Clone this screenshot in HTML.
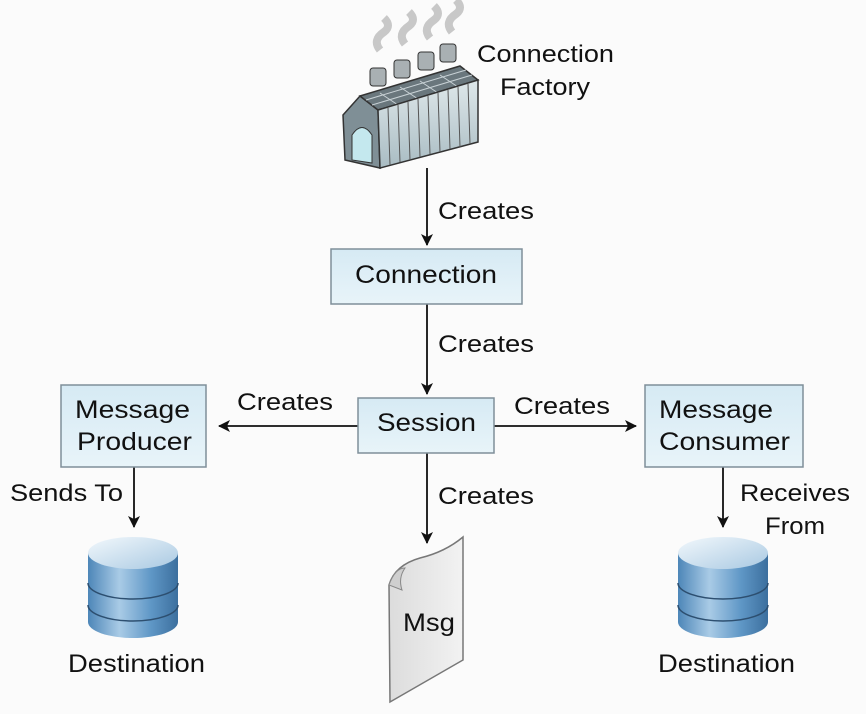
<!DOCTYPE html>
<html><head><meta charset="utf-8"><style>
html,body{margin:0;padding:0;background:#fbfbfb;}
svg{display:block;font-family:"Liberation Sans",Arial,sans-serif;}
</style></head><body>
<svg width="866" height="714" viewBox="0 0 866 714" xmlns="http://www.w3.org/2000/svg">
<defs>
<linearGradient id="box" x1="0" y1="0" x2="0" y2="1"><stop offset="0" stop-color="#d6eaf4"/><stop offset="1" stop-color="#e8f4f9"/></linearGradient>
<linearGradient id="cyl" x1="0" y1="0" x2="1" y2="0"><stop offset="0" stop-color="#4d86b8"/><stop offset="0.35" stop-color="#a9cbe6"/><stop offset="0.7" stop-color="#5f97c6"/><stop offset="1" stop-color="#3c6f9e"/></linearGradient>
<linearGradient id="cyltop" x1="0" y1="0" x2="1" y2="1"><stop offset="0" stop-color="#f2f8fc"/><stop offset="1" stop-color="#a9c9e2"/></linearGradient>
<linearGradient id="doc" x1="0" y1="0" x2="1" y2="0"><stop offset="0" stop-color="#dcdcdc"/><stop offset="1" stop-color="#f2f2f2"/></linearGradient>
<linearGradient id="side" x1="0" y1="0" x2="0" y2="1"><stop offset="0" stop-color="#dfe8ea"/><stop offset="1" stop-color="#a9bcc3"/></linearGradient>
<marker id="ah" markerWidth="12" markerHeight="12" refX="11" refY="6" orient="auto" markerUnits="userSpaceOnUse"><path d="M0,0 L12,6 L0,12 L3,6 Z" fill="#111"/></marker>
</defs>

<!-- factory -->
<g>
  <path d="M380,50 q-8,-10 4,-18 q8,-6 0,-14" stroke="#c8c8c8" stroke-width="8" fill="none"/>
  <path d="M405,44 q-8,-10 4,-18 q8,-6 0,-14" stroke="#c8c8c8" stroke-width="8" fill="none"/>
  <path d="M430,38 q-8,-10 4,-18 q8,-6 0,-14" stroke="#c8c8c8" stroke-width="8" fill="none"/>
  <path d="M452,32 q-8,-10 4,-18 q8,-6 0,-14" stroke="#c8c8c8" stroke-width="8" fill="none"/>
  <polygon points="343,115 360,96 378,110 380,168 345,160" fill="#7f8f96" stroke="#333" stroke-width="1.5"/>
  <path d="M352,160 l0,-25 q10,-15 20,0 l0,28 Z" fill="#c4e8ee" stroke="#333"/>
  <polygon points="360,96 460,66 478,80 378,110" fill="#6a777d" stroke="#333" stroke-width="1.5"/>
  <g stroke="#c9d2d6" stroke-width="1">
    <line x1="366" y1="100" x2="466" y2="70"/><line x1="372" y1="105" x2="472" y2="75"/>
    <line x1="380" y1="93" x2="398" y2="105"/><line x1="400" y1="87" x2="418" y2="99"/>
    <line x1="420" y1="81" x2="438" y2="93"/><line x1="440" y1="75" x2="458" y2="87"/>
  </g>
  <polygon points="378,110 478,80 478,142 380,168" fill="url(#side)" stroke="#333" stroke-width="1.5"/>
  <g stroke="#555" stroke-width="1">
    <line x1="388" y1="108" x2="390" y2="165"/><line x1="398" y1="105" x2="400" y2="162"/>
    <line x1="408" y1="102" x2="410" y2="160"/><line x1="418" y1="99" x2="420" y2="157"/>
    <line x1="428" y1="96" x2="430" y2="154"/><line x1="438" y1="93" x2="440" y2="152"/>
    <line x1="448" y1="90" x2="450" y2="149"/><line x1="458" y1="87" x2="460" y2="147"/>
    <line x1="468" y1="84" x2="470" y2="144"/>
  </g>
  <g fill="#a9b0b3" stroke="#333">
    <rect x="370" y="68" width="16" height="18" rx="3"/>
    <rect x="394" y="60" width="16" height="18" rx="3"/>
    <rect x="418" y="52" width="16" height="18" rx="3"/>
    <rect x="440" y="44" width="16" height="18" rx="3"/>
  </g>
</g>
<text x="477" y="62" font-size="24" fill="#111" textLength="137" lengthAdjust="spacingAndGlyphs">Connection</text>
<text x="500" y="95" font-size="24" fill="#111" textLength="90" lengthAdjust="spacingAndGlyphs">Factory</text>

<g stroke="#111" stroke-width="1.8" fill="none">
  <line x1="427" y1="168" x2="427" y2="245" marker-end="url(#ah)"/>
  <line x1="427" y1="304" x2="427" y2="394" marker-end="url(#ah)"/>
  <line x1="358" y1="426" x2="219" y2="426" marker-end="url(#ah)"/>
  <line x1="494" y1="426" x2="636" y2="426" marker-end="url(#ah)"/>
  <line x1="427" y1="453" x2="427" y2="543" marker-end="url(#ah)"/>
  <line x1="134" y1="467" x2="134" y2="527" marker-end="url(#ah)"/>
  <line x1="723" y1="467" x2="723" y2="527" marker-end="url(#ah)"/>
</g>

<g font-size="24" fill="#111">
<text x="438" y="219" textLength="96" lengthAdjust="spacingAndGlyphs">Creates</text>
<text x="438" y="352" textLength="96" lengthAdjust="spacingAndGlyphs">Creates</text>
<text x="237" y="410" textLength="96" lengthAdjust="spacingAndGlyphs">Creates</text>
<text x="514" y="414" textLength="96" lengthAdjust="spacingAndGlyphs">Creates</text>
<text x="438" y="504" textLength="96" lengthAdjust="spacingAndGlyphs">Creates</text>
<text x="10" y="501" textLength="113" lengthAdjust="spacingAndGlyphs">Sends To</text>
<text x="740" y="501" textLength="110" lengthAdjust="spacingAndGlyphs">Receives</text>
<text x="765" y="534" textLength="60" lengthAdjust="spacingAndGlyphs">From</text>
</g>

<!-- boxes -->
<g stroke="#7f8f99" stroke-width="1.5" fill="url(#box)">
  <rect x="331" y="249" width="191" height="55"/>
  <rect x="358" y="398" width="136" height="55"/>
  <rect x="61" y="385" width="145" height="82"/>
  <rect x="645" y="385" width="158" height="82"/>
</g>

<!-- Msg doc -->
<path d="M389,585 Q395,565 420,558 Q445,552 463,537 L463,660 L390,702 Z" fill="url(#doc)" stroke="#777" stroke-width="1.5"/>
<path d="M389,585 Q395,568 405,568 Q398,578 402,590 Z" fill="#cfcfcf" stroke="#888"/>

<g font-size="25" fill="#111">
<text x="355" y="283" textLength="142" lengthAdjust="spacingAndGlyphs">Connection</text>
<text x="377" y="431" textLength="99" lengthAdjust="spacingAndGlyphs">Session</text>
<text x="75" y="418" textLength="115" lengthAdjust="spacingAndGlyphs">Message</text>
<text x="77" y="450" textLength="115" lengthAdjust="spacingAndGlyphs">Producer</text>
<text x="659" y="418" textLength="114" lengthAdjust="spacingAndGlyphs">Message</text>
<text x="659" y="450" textLength="131" lengthAdjust="spacingAndGlyphs">Consumer</text>
<text x="68" y="672" textLength="137" lengthAdjust="spacingAndGlyphs">Destination</text>
<text x="658" y="672" textLength="137" lengthAdjust="spacingAndGlyphs">Destination</text>
<text x="403" y="631" textLength="52" lengthAdjust="spacingAndGlyphs">Msg</text>
</g>

<!-- cylinders -->
<g>
  <path d="M88,553 L88,622 A45,16 0 0 0 178,622 L178,553 Z" fill="url(#cyl)"/>
  <path d="M88,583 A45,16 0 0 0 178,583 M88,605 A45,16 0 0 0 178,605" stroke="#2d4f70" stroke-width="1.5" fill="none"/>
  <ellipse cx="133" cy="553" rx="45" ry="16" fill="url(#cyltop)"/>
  <path d="M678,553 L678,622 A45,16 0 0 0 768,622 L768,553 Z" fill="url(#cyl)"/>
  <path d="M678,583 A45,16 0 0 0 768,583 M678,605 A45,16 0 0 0 768,605" stroke="#2d4f70" stroke-width="1.5" fill="none"/>
  <ellipse cx="723" cy="553" rx="45" ry="16" fill="url(#cyltop)"/>
</g>
</svg>
</body></html>
